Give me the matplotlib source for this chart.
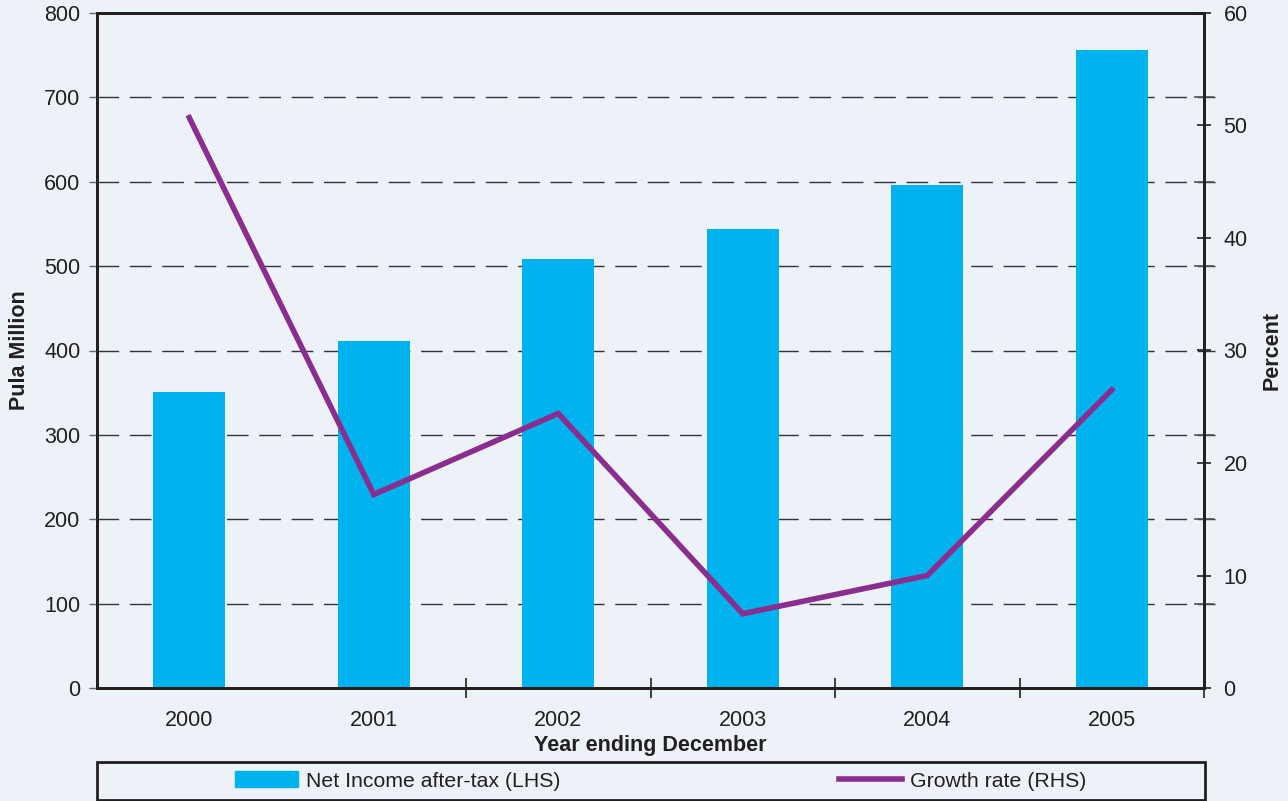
import matplotlib.pyplot as plt
import matplotlib.patches as mpatches
from matplotlib.lines import Line2D
import numpy as np

plt.rcParams['font.family'] = ['Liberation Sans', 'DejaVu Sans']

# net income after tax (Pula million) and its annual growth rate (percent)
years = ['2000', '2001', '2002', '2003', '2004', '2005']
net_income = [351, 411, 508, 544, 596, 756]
growth_rate = [50.7, 17.2, 24.4, 6.6, 10.0, 26.5]

bg = '#EDF2F9'
bar_col = '#00B2EE'
line_col = '#8B2D8E'
dark = '#231F20'
fs = 15.5

fig = plt.figure(figsize=(12.88, 8.01), dpi=100, facecolor=bg)
ax = fig.add_axes([97 / 1288, 113 / 801, 1107 / 1288, 675 / 801])
ax.set_facecolor(bg)
ax2 = ax.twinx()

xx = np.arange(len(years))

# dashed guide lines for the left axis values
for v in range(100, 800, 100):
    ax.plot([0, 1.01], [v, v], transform=ax.get_yaxis_transform(), color='#333333',
            lw=1.0, linestyle=(0, (15.6, 7.7)), zorder=0.5, clip_on=False)

ax.bar(xx, net_income, width=0.39, color=bar_col, zorder=2)
ax2.plot(xx, growth_rate, color=line_col, lw=4, solid_joinstyle='miter', zorder=3)

ax.set_xlim(-0.5, 5.5)
ax.set_ylim(0, 800)
ax2.set_ylim(0, 60)

ax.set_yticks(range(0, 801, 100))
ax.tick_params(axis='y', direction='out', length=6, width=1, color='#666666',
               pad=6, labelsize=fs, labelcolor=dark)
ax.set_xticks(xx)
ax.set_xticklabels(years)
ax.set_xticks(xx[1:] + 0.5, minor=True)
ax.tick_params(axis='x', which='major', length=0, pad=15.5, labelsize=fs, labelcolor=dark)
ax.tick_params(axis='x', which='minor', direction='inout', length=14, width=1.2, color=dark)

ax2.set_yticks(range(0, 61, 10))
ax2.set_yticks([v * 60 / 800 for v in range(0, 801, 100)], minor=True)
ax2.tick_params(axis='y', which='major', direction='inout', length=10, width=1.2,
                color=dark, pad=9, labelsize=fs, labelcolor=dark)
ax2.tick_params(axis='y', which='minor', direction='inout', length=15, width=1.2,
                color='#555555')

for a in (ax, ax2):
    for s in a.spines.values():
        s.set_color(dark)
        s.set_linewidth(2)

ax.set_ylabel('Pula Million', fontsize=fs, fontweight='bold', color=dark, labelpad=10)
ax2.set_ylabel('Percent', fontsize=fs, fontweight='bold', color=dark, labelpad=10)
ax.set_xlabel('Year ending December', fontsize=fs, fontweight='bold', color=dark, labelpad=3)

# legend strip below the chart
fig.patches.append(mpatches.Rectangle((97 / 1288, 1 / 801), 1108 / 1288, 38 / 801,
                                      transform=fig.transFigure, fill=False,
                                      edgecolor=dark, lw=2))
handles = [mpatches.Patch(color=bar_col, label='Net Income after-tax (LHS)'),
           Line2D([], [], color=line_col, lw=4, label='Growth rate (RHS)')]
fig.legend(handles=handles, loc='center', bbox_to_anchor=(661 / 1288, 20 / 801),
           ncol=2, frameon=False, fontsize=15.3, handlelength=2.96, handleheight=0.75,
           handletextpad=0.38, columnspacing=13.1, labelcolor=dark)

fig.savefig('out.png', dpi=100, facecolor=bg)
